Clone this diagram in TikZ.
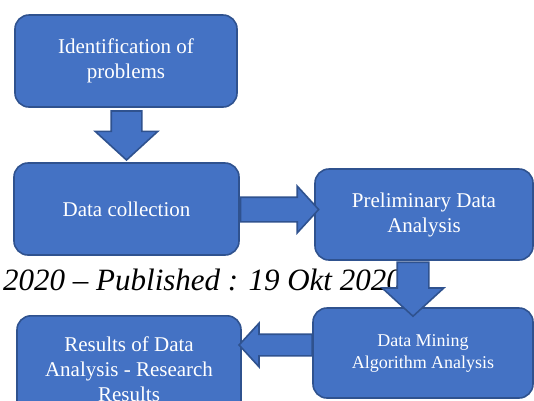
\documentclass[tikz,border=0pt]{standalone}
\usepackage{fontspec}
\setmainfont{Liberation Serif}
\usetikzlibrary{shapes.arrows}
\definecolor{stageblue}{HTML}{4472C4}
\definecolor{stageedge}{HTML}{2F528F}

\begin{document}
\begin{tikzpicture}[x=1pt,y=-1pt,
    stagebox/.style={draw=stageedge,fill=stageblue,line width=1.6pt,rounded corners=14pt,
      text=white,align=center,font=\fontsize{21}{25}\selectfont},
    blockarrow/.style={single arrow,draw=stageedge,fill=stageblue,line width=1.6pt,
      inner sep=0pt,text height=0pt,text depth=0pt,single arrow tip angle=95}]
      % Fix the page
      \useasboundingbox (0,0) rectangle (534,400);
      \clip (0,0) rectangle (534,400);
      % Draw the stages
      \node (ident) [stagebox,minimum width=222pt,minimum height=92pt] at (126,61) {Identification of\\problems};
      \node (collect) [stagebox,minimum width=225pt,minimum height=92pt] at (126.5,209) {Data collection};
      \node (prelim) [stagebox,minimum width=218pt,minimum height=91pt] at (424,214.5) {Preliminary Data\\Analysis};
      \node (mining) [stagebox,minimum width=220pt,minimum height=90pt,font=\fontsize{18}{22}\selectfont] at (423,353) {Data Mining\\Algorithm Analysis};
      \node (results) [stagebox,minimum width=224pt,minimum height=106pt,anchor=north] at (129,315) {Results of Data\\Analysis - Research\\Results};
      % Draw the running line
      \node (pub) [anchor=base west,inner sep=0pt,font=\fontsize{31}{31}\selectfont\itshape] at (3,290) {2020 – Published : 19 Okt 2020};
      % Draw the arrows
      \node (down1) [blockarrow,shape border rotate=270,minimum height=49pt,inner xsep=14.5pt,single arrow head extend=16pt] at (126.5,128.5) {};
      \node (right1) [blockarrow,minimum height=78pt,inner ysep=11.5pt,single arrow head extend=11pt] at (274,209.5) {};
      \node (down2) [blockarrow,shape border rotate=270,minimum height=54pt,inner xsep=15pt,single arrow head extend=15pt] at (413,282) {};
      \node (left1) [blockarrow,shape border rotate=180,minimum height=73pt,inner ysep=10pt,single arrow head extend=11pt] at (280.5,345) {};
\end{tikzpicture}
\end{document}
